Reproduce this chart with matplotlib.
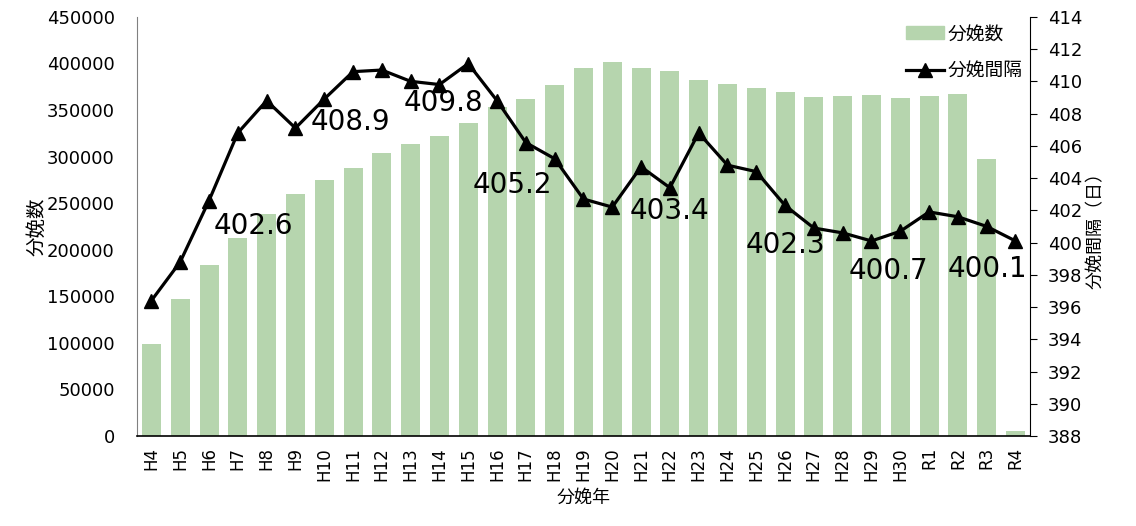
import matplotlib
matplotlib.use("Agg")
from matplotlib import pyplot as plt
from matplotlib.patches import Patch
from matplotlib.lines import Line2D

plt.rcParams['font.family'] = ['DejaVu Sans', 'Noto Sans CJK JP']

years = ["H4", "H5", "H6", "H7", "H8", "H9", "H10", "H11", "H12", "H13", "H14",
         "H15", "H16", "H17", "H18", "H19", "H20", "H21", "H22", "H23", "H24",
         "H25", "H26", "H27", "H28", "H29", "H30", "R1", "R2", "R3", "R4"]

births = [99000, 147000, 184000, 213000, 238000, 260000, 275000, 288000, 304000,
          313000, 322000, 336000, 353000, 362000, 377000, 395000, 401000, 395000,
          392000, 382000, 378000, 374000, 369000, 364000, 365000, 366000, 363000,
          365000, 367000, 297000, 5400]

interval = [396.4, 398.8, 402.6, 406.8, 408.8, 407.1, 408.9, 410.6, 410.7, 410.0,
            409.8, 411.1, 408.8, 406.2, 405.2, 402.7, 402.2, 404.7, 403.4, 406.8,
            404.8, 404.4, 402.3, 400.9, 400.6, 400.1, 400.7, 401.9, 401.6, 401.0,
            400.1]

# points that get a value label, and where the label sits (offset in px)
label_idx = [2, 6, 10, 14, 18, 22, 26, 30]
label_off = [(44, -25), (26, -23), (4, -18), (-42, -26), (0, -23), (0, -40),
             (-12, -40), (-28, -28)]

bar_color = "#b6d5ae"

fig = plt.figure(figsize=(11.36, 5.26), dpi=100)
ax = fig.add_axes([0.1206, 0.171, 0.786, 0.797])
ax2 = ax.twinx()

x = list(range(len(years)))
ax.bar(x, births, width=0.66, color=bar_color, zorder=1)
ax.set_xlim(-0.5, len(years) - 0.5)
ax.set_ylim(0, 450000)
ax.set_yticks(range(0, 450001, 50000))
ax.set_xticks(x)
ax.set_xticklabels(years, rotation=90, fontsize=12)
ax.tick_params(axis='y', length=0, labelsize=13, pad=16)
ax.tick_params(axis='x', length=0, pad=8)
for s in ["top", "right"]:
    ax.spines[s].set_visible(False)
ax.spines["left"].set_color("#808080")
ax.spines["bottom"].set_color("black")
ax.spines["bottom"].set_linewidth(1.2)
ax.set_ylabel("分娩数", fontsize=14, labelpad=0)
ax.set_xlabel("分娩年", fontsize=13, labelpad=6)

ax2.plot(x, interval, color="black", lw=2.3, marker="^", markersize=10, zorder=3)
ax2.set_ylim(388, 414)
ax2.set_yticks(range(388, 415, 2))
ax2.tick_params(axis='y', length=5, labelsize=13, direction='out', pad=8)
for s in ["top", "left", "bottom"]:
    ax2.spines[s].set_visible(False)
ax2.spines["right"].set_color("black")
ax2.set_ylabel("分娩間隔（日）", fontsize=13, labelpad=3)

for i, (dx, dy) in zip(label_idx, label_off):
    ax2.annotate(f"{interval[i]:.1f}", (x[i], interval[i]), xytext=(dx * 0.72, dy * 0.72),
                 textcoords="offset points", ha="center", va="center", fontsize=20)

handles = [Patch(color=bar_color),
           Line2D([], [], color="black", lw=2.3, marker="^", markersize=10)]
ax2.legend(handles, ["分娩数", "分娩間隔"], loc="upper right", frameon=False,
           fontsize=13.5, handlelength=2.0, handletextpad=0.2, labelspacing=0.95,
           borderaxespad=0.0, bbox_to_anchor=(1.0, 1.0))

fig.savefig("out.png", dpi=100)
